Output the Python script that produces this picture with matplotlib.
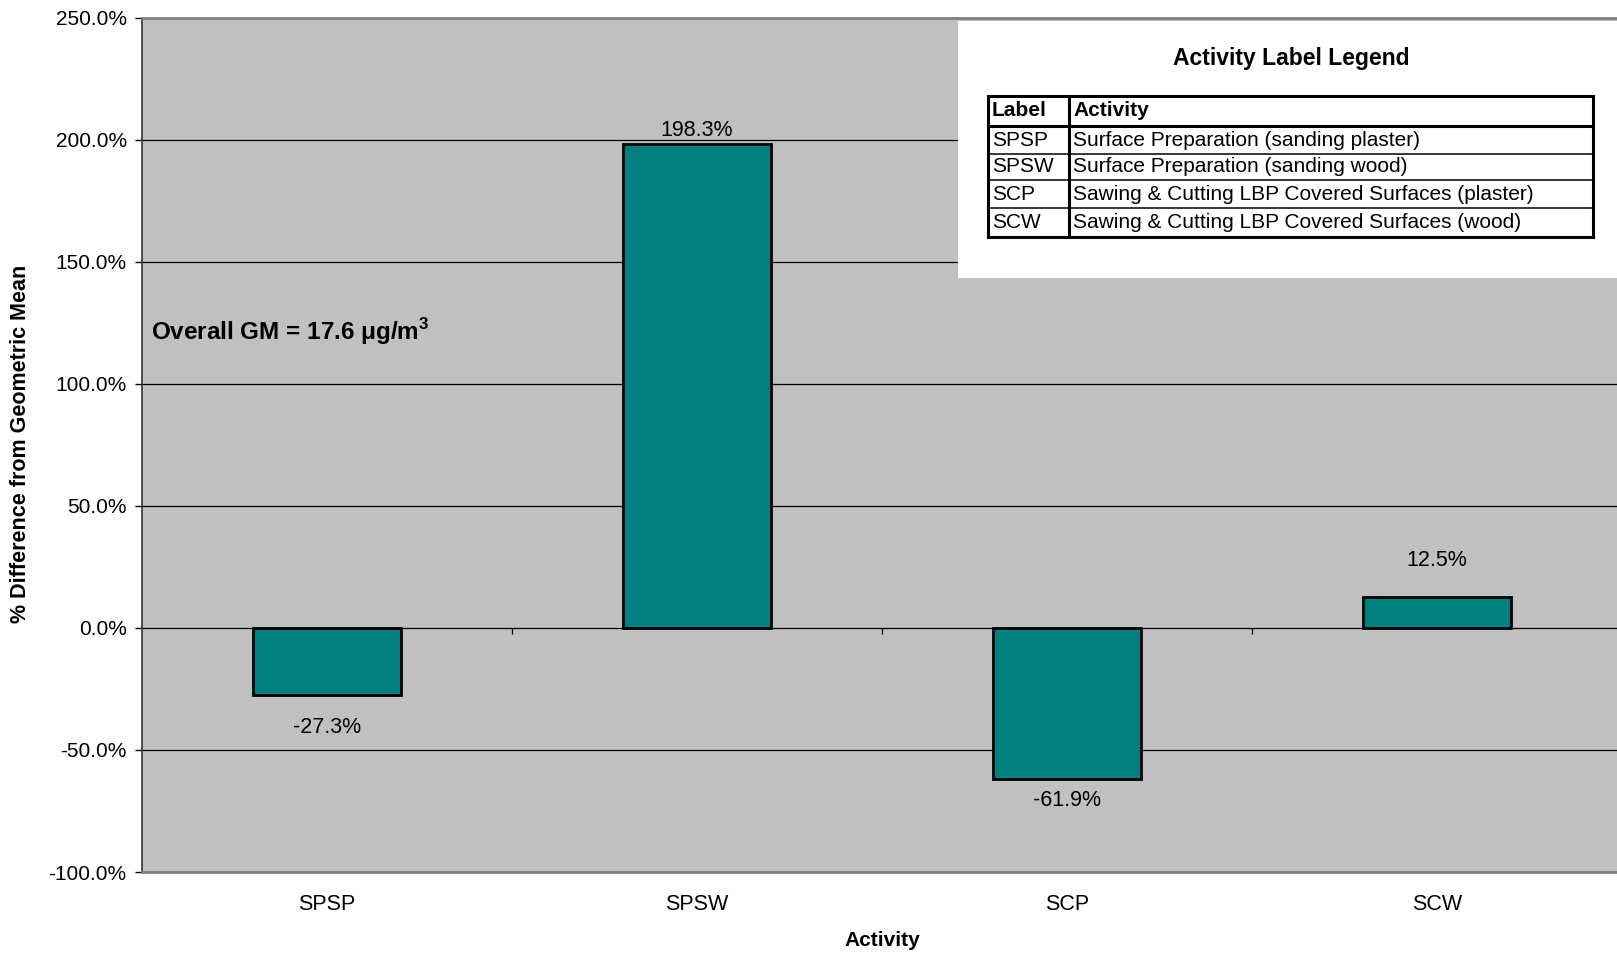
import numpy as np
import matplotlib.pyplot as plt
from matplotlib.patches import Rectangle
from matplotlib.lines import Line2D

plt.rcParams['font.family'] = ['Liberation Sans', 'DejaVu Sans']
plt.rcParams['mathtext.fontset'] = 'custom'
plt.rcParams['mathtext.rm'] = 'Liberation Sans'
plt.rcParams['mathtext.bf'] = 'Liberation Sans:bold'

# activity codes and % difference from the overall geometric mean
activities = ['SPSP', 'SPSW', 'SCP', 'SCW']
pct_diff = [-27.3, 198.3, -61.9, 12.5]

legend_header = ['Label', 'Activity']
legend_desc = [
    'Surface Preparation (sanding plaster)',
    'Surface Preparation (sanding wood)',
    'Sawing & Cutting LBP Covered Surfaces (plaster)',
    'Sawing & Cutting LBP Covered Surfaces (wood)',
]

W, H = 1617, 956
fig = plt.figure(figsize=(W / 100, H / 100), dpi=100)


def fx(px):
    return px / W


def fy(py):
    return 1 - py / H


ax = fig.add_axes([fx(142), fy(872), fx(1480), (872 - 17.5) / H])
ax.set_facecolor('#c0c0c0')

x = np.arange(len(activities)) + 0.5
bars = ax.bar(x, pct_diff, width=0.4, color='#008080', edgecolor='black',
              linewidth=2, zorder=3)

# per-bar label nudges (px), above for positive, below for negative
label_offsets_px = [-33, 13, -22, 37]
for xi, v, off in zip(x, pct_diff, label_offsets_px):
    ax.annotate(f'{v:.1f}%', (xi, v), xytext=(0, off * 0.72),
                textcoords='offset points', ha='center', va='center',
                fontsize=15.5, zorder=4)

ax.set_xlim(0, len(activities))
ax.set_ylim(-100, 250)
ax.set_yticks(np.arange(-100, 251, 50))
ax.set_yticklabels([f'{t:.1f}%' for t in np.arange(-100, 251, 50)])
ax.yaxis.grid(True, color='black', linewidth=0.9, zorder=1)
ax.set_axisbelow(True)

ax.set_xticks(x)
ax.set_xticklabels(activities)
ax.tick_params(axis='x', length=0, pad=16, labelsize=15.5)
ax.tick_params(axis='y', length=5, width=1, direction='out', pad=6,
               labelsize=15)

# category separators on the zero line
ax.vlines(np.arange(1, len(activities)), 0, -2.5, color='black',
          linewidth=0.9, zorder=2)

for s in ['top', 'bottom']:
    ax.spines[s].set_color('#808080')
    ax.spines[s].set_linewidth(2)
ax.spines['left'].set_color('#333333')
ax.spines['left'].set_linewidth(1.2)
ax.spines['right'].set_visible(False)

fig.text(fx(21), fy(444), '% Difference from Geometric Mean', rotation=90,
         ha='center', va='center', fontsize=15.5, fontweight='bold')
fig.text(fx(882), fy(941), 'Activity', ha='center', va='center',
         fontsize=15, fontweight='bold')

fig.text(fx(151), fy(332), r'Overall GM = 17.6 μg/m$^{\mathbf{3}}$',
         ha='left', va='center', fontsize=17.5, fontweight='bold')

# legend panel with the activity table
fig.add_artist(Rectangle((fx(958), fy(278)), fx(700), (278 - 21) / H,
                         transform=fig.transFigure, facecolor='white',
                         edgecolor='none', zorder=5))
fig.text(fx(1291), fy(59), 'Activity Label Legend', ha='center', va='center',
         fontsize=16.5, fontweight='bold', zorder=6)

tx0, tx1, tcol = 988, 1593, 1069
row_y = [96, 126, 154, 180, 208, 237]


def hline(y, lw):
    fig.add_artist(Line2D([fx(tx0), fx(tx1)], [fy(y), fy(y)], color='black',
                          linewidth=lw, zorder=7))


def vline(xp, lw):
    fig.add_artist(Line2D([fx(xp), fx(xp)], [fy(row_y[0]), fy(row_y[-1])],
                          color='black', linewidth=lw, zorder=7))


for i, y in enumerate(row_y):
    hline(y, 2.2 if i in (0, 1, len(row_y) - 1) else 1.1)
vline(tx0, 2.2)
vline(tx1, 2.2)
vline(tcol, 2.2)

rows = [legend_header] + [[a, d] for a, d in zip(activities, legend_desc)]
for i, (lab, desc) in enumerate(rows):
    yc = (row_y[i] + row_y[i + 1]) / 2
    wt = 'bold' if i == 0 else 'normal'
    fig.text(fx(tx0 + 4), fy(yc), lab, ha='left', va='center',
             fontsize=15, fontweight=wt, zorder=8)
    fig.text(fx(tcol + 4), fy(yc), desc, ha='left', va='center',
             fontsize=15, fontweight=wt, zorder=8)

fig.savefig('out.png', dpi=100)
